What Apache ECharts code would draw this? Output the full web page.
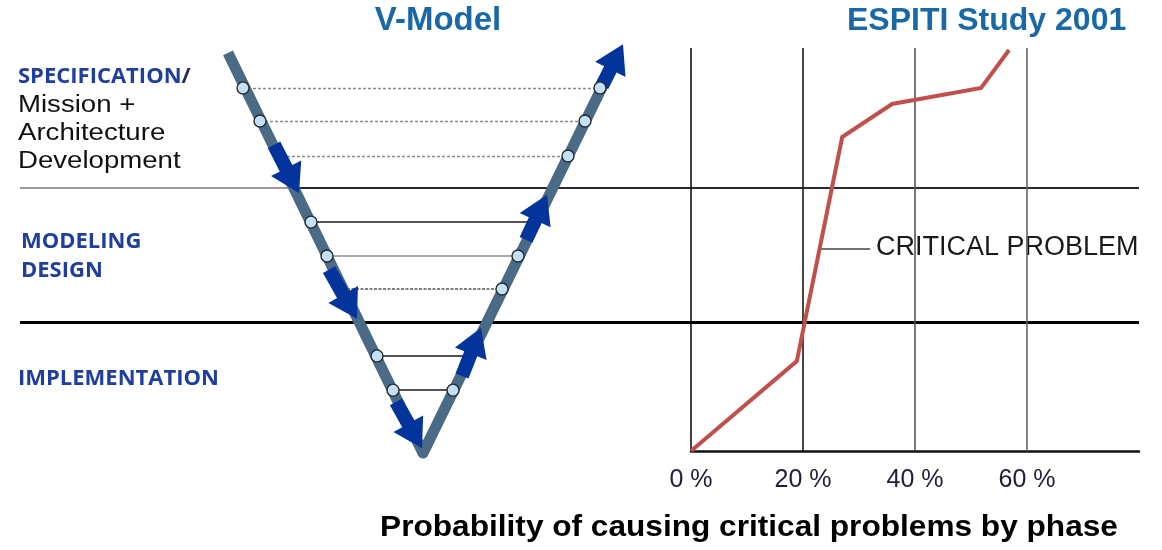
<!DOCTYPE html>
<html><head><meta charset="utf-8">
<script src="https://cdn.jsdelivr.net/npm/echarts@6/dist/echarts.min.js"></script>
<style>html,body{margin:0;padding:0;background:#fff}#c{width:1162px;height:550px}</style>
</head><body><div id="c"></div>
<script>
// ---------- ESPITI Study 2001 (right chart) ----------
// x: probability of causing critical problems (%), y: phase progress (0 = bottom of implementation, 100 = top of specification)
const pctTicks = [0, 20, 40, 60];
const criticalX = [0, 18.9, 27.0, 35.9, 51.8, 56.8];
const criticalY = [0, 22.3, 77.9, 86.1, 90.1, 99.5];
const phaseBounds = [32.0, 65.3];           // implementation | modeling | specification
const leaderY = 50.1;                        // where the "CRITICAL PROBLEM" callout meets the curve
const leaderX = [23.0, 32.0];

// ---------- V-Model (left diagram), x in diagram units, y in the same phase-progress units ----------
const vArm = [[228, 98.8], [423, -0.5], [612, 95.3]];
const leftNodes  = [[243, 90.1], [260, 81.9], [311, 56.8], [327, 48.4], [377, 23.6], [393, 15.1]];
const rightNodes = [[600, 90.1], [585, 81.9], [568, 73.2], [518, 48.4], [502, 40.2], [453, 15.1]];
const connectors = [[90.1, 243, 600], [81.9, 260, 585], [73.2, 282, 568], [56.8, 311, 528],
                    [48.4, 327, 518], [40.2, 347, 502], [23.6, 377, 463], [15.1, 393, 453]];
const connectorKind = ['dot', 'dot', 'dot', 'solidDark', 'solidGray', 'dotDark', 'solidDark', 'solidDark'];
const flowArrows = [[274, 76.0, 299, 64.0], [329, 45.0, 357, 32.8], [396, 12.2, 422, 0.7],
                    [462, 18.6, 481, 30.6], [526, 52.4, 547, 63.6], [602, 90.6, 623, 100.9]];

// ---------- texts ----------
const titleLeft = 'V-Model';
const titleRight = 'ESPITI Study 2001';
const bottomTitle = 'Probability of causing critical problems by phase';
const curveLabel = 'CRITICAL PROBLEM';
const specLines = ['Mission +', 'Architecture', 'Development'];

const kindStyle = {
  dot:       {color: '#8a8a8a', width: 1.4, type: [3, 2], opacity: 1},
  dotDark:   {color: '#555555', width: 1.6, type: [3, 1.5], opacity: 1},
  solidDark: {color: '#1a1a1a', width: 1.5, type: 'solid', opacity: 1},
  solidGray: {color: '#8f8f8f', width: 1.5, type: 'solid', opacity: 1}
};

const chart = echarts.init(document.getElementById('c'), null, {renderer: 'canvas'});

const textBlue = '#1f3e9e';
const titleBlue = '#1a68a6';

const option = {
  backgroundColor: '#ffffff',
  animation: false,
  grid: [
    {left: 0, right: 0, top: 48, bottom: 99},
    {left: 691, right: 23, top: 48, bottom: 99}
  ],
  xAxis: [
    {gridIndex: 0, type: 'value', min: 0, max: 1162, show: false},
    {gridIndex: 1, type: 'value', min: 0, max: 80, interval: 20,
     axisLine: {show: true, lineStyle: {color: '#111', width: 2.5}},
     axisTick: {show: false}, splitLine: {show: false},
     axisLabel: {margin: 17, fontSize: 25, color: '#20203a', fontFamily: 'Liberation Sans',
                 formatter: v => (pctTicks.indexOf(v) >= 0 ? v + ' %' : '')}}
  ],
  yAxis: [
    {gridIndex: 0, type: 'value', min: 0, max: 100, show: false},
    {gridIndex: 1, type: 'value', min: 0, max: 100, show: false}
  ],
  series: [
    // vertical grid lines of the ESPITI chart
    {type: 'line', xAxisIndex: 1, yAxisIndex: 1, data: [], z: 1, silent: true,
     markLine: {silent: true, symbol: 'none', label: {show: false}, animation: false,
       data: pctTicks.map((v, i) => ({xAxis: v,
         lineStyle: {color: ['#111', '#1a1a1a', '#555', '#666'][i], width: 1.6, type: 'solid', opacity: 1}}))}},
    // phase boundary lines across the whole figure
    {type: 'lines', coordinateSystem: 'cartesian2d', xAxisIndex: 0, yAxisIndex: 0, z: 2, silent: true,
     polyline: false, clip: false,
     data: [
       {coords: [[20, phaseBounds[1]], [290, phaseBounds[1]]], lineStyle: {color: '#9a9a9a', width: 1.8, opacity: 1}},
       {coords: [[290, phaseBounds[1]], [1139, phaseBounds[1]]], lineStyle: {color: '#2a2a2a', width: 1.8, opacity: 1}},
       {coords: [[20, phaseBounds[0]], [1139, phaseBounds[0]]], lineStyle: {color: '#000', width: 3, opacity: 1}}
     ]},
    // V-model horizontal connectors
    {type: 'lines', coordinateSystem: 'cartesian2d', xAxisIndex: 0, yAxisIndex: 0, z: 3, silent: true, clip: false,
     data: connectors.map((c, i) => ({coords: [[c[1], c[0]], [c[2], c[0]]], lineStyle: kindStyle[connectorKind[i]]}))},
    // V arms
    {type: 'line', xAxisIndex: 0, yAxisIndex: 0, data: vArm, z: 4, showSymbol: false, symbol: 'none', clip: false,
     lineStyle: {color: '#4b6a85', width: 11, join: 'round', cap: 'butt'}},
    // flow arrows
    {type: 'custom', xAxisIndex: 0, yAxisIndex: 0, z: 5, clip: false, data: flowArrows,
     renderItem: function (params, api) {
       const p1 = api.coord([api.value(0), api.value(1)]);
       const p2 = api.coord([api.value(2), api.value(3)]);
       const dx = p2[0] - p1[0], dy = p2[1] - p1[1], L = Math.hypot(dx, dy);
       const ux = dx / L, uy = dy / L, nx = -uy, ny = ux;
       const hl = 28, hw = 17, sw = 7;
       const bx = p2[0] - ux * hl, by = p2[1] - uy * hl;
       const pts = [[p1[0] + nx * sw, p1[1] + ny * sw], [bx + nx * sw, by + ny * sw], [bx + nx * hw, by + ny * hw],
                    [p2[0], p2[1]], [bx - nx * hw, by - ny * hw], [bx - nx * sw, by - ny * sw],
                    [p1[0] - nx * sw, p1[1] - ny * sw]];
       return {type: 'polygon', shape: {points: pts}, style: {fill: '#02349b'}};
     }},
    // node circles
    {type: 'scatter', xAxisIndex: 0, yAxisIndex: 0, z: 6, clip: false, silent: true,
     data: leftNodes.concat(rightNodes), symbol: 'circle', symbolSize: 12,
     itemStyle: {color: '#c3e1f6', borderColor: '#2a2a2a', borderWidth: 1.4, opacity: 1}},
    // critical-problem curve
    {type: 'line', xAxisIndex: 1, yAxisIndex: 1, z: 6, clip: false, showSymbol: false, symbol: 'none',
     data: criticalX.map((x, i) => [x, criticalY[i]]),
     lineStyle: {color: '#c0504d', width: 4, join: 'miter'}},
    // callout leader
    {type: 'lines', coordinateSystem: 'cartesian2d', xAxisIndex: 1, yAxisIndex: 1, z: 5, silent: true, clip: false,
     data: [{coords: [[leaderX[0], leaderY], [leaderX[1], leaderY]]}],
     lineStyle: {color: '#444', width: 1.6, opacity: 1},
     label: {show: false}}
  ],
  graphic: [
    {type: 'text', x: 438, y: 21, style: {text: titleLeft, font: 'bold 33px "Liberation Sans"', fill: titleBlue, align: 'center', verticalAlign: 'middle'}},
    {type: 'text', x: 847, y: 21, style: {text: titleRight, font: 'bold 32px "Liberation Sans"', fill: titleBlue, align: 'left', verticalAlign: 'middle'}},
    {type: 'text', x: 749, y: 528, scaleX: 1.09, style: {text: bottomTitle, font: 'bold 29px "Liberation Sans"', fill: '#000', align: 'center', verticalAlign: 'middle'}},
    {type: 'text', x: 876, y: 248, style: {text: curveLabel, font: '27px "Liberation Sans"', fill: '#1a1a1a', align: 'left', verticalAlign: 'middle'}},
    {type: 'text', x: 18, y: 77, style: {text: '{a|SPECIFICATION}{b|/}', align: 'left', verticalAlign: 'middle',
      rich: {a: {font: 'bold 22px "Open Sans"', fill: textBlue}, b: {font: 'bold 22px "Open Sans"', fill: '#1d2a5a'}}}},
    {type: 'text', x: 18, y: 106, scaleX: 1.2, style: {text: specLines[0], font: '23px "Liberation Sans"', fill: '#111', align: 'left', verticalAlign: 'middle'}},
    {type: 'text', x: 18, y: 134, scaleX: 1.2, style: {text: specLines[1], font: '23px "Liberation Sans"', fill: '#111', align: 'left', verticalAlign: 'middle'}},
    {type: 'text', x: 18, y: 162, scaleX: 1.2, style: {text: specLines[2], font: '23px "Liberation Sans"', fill: '#111', align: 'left', verticalAlign: 'middle'}},
    {type: 'text', x: 21, y: 242, style: {text: 'MODELING', font: 'bold 22px "Open Sans"', fill: textBlue, align: 'left', verticalAlign: 'middle'}},
    {type: 'text', x: 21, y: 271, style: {text: 'DESIGN', font: 'bold 22px "Open Sans"', fill: textBlue, align: 'left', verticalAlign: 'middle'}},
    {type: 'text', x: 18, y: 379, style: {text: 'IMPLEMENTATION', font: 'bold 22px "Open Sans"', fill: textBlue, align: 'left', verticalAlign: 'middle'}}
  ]
};
chart.setOption(option);
</script>
</body></html>
